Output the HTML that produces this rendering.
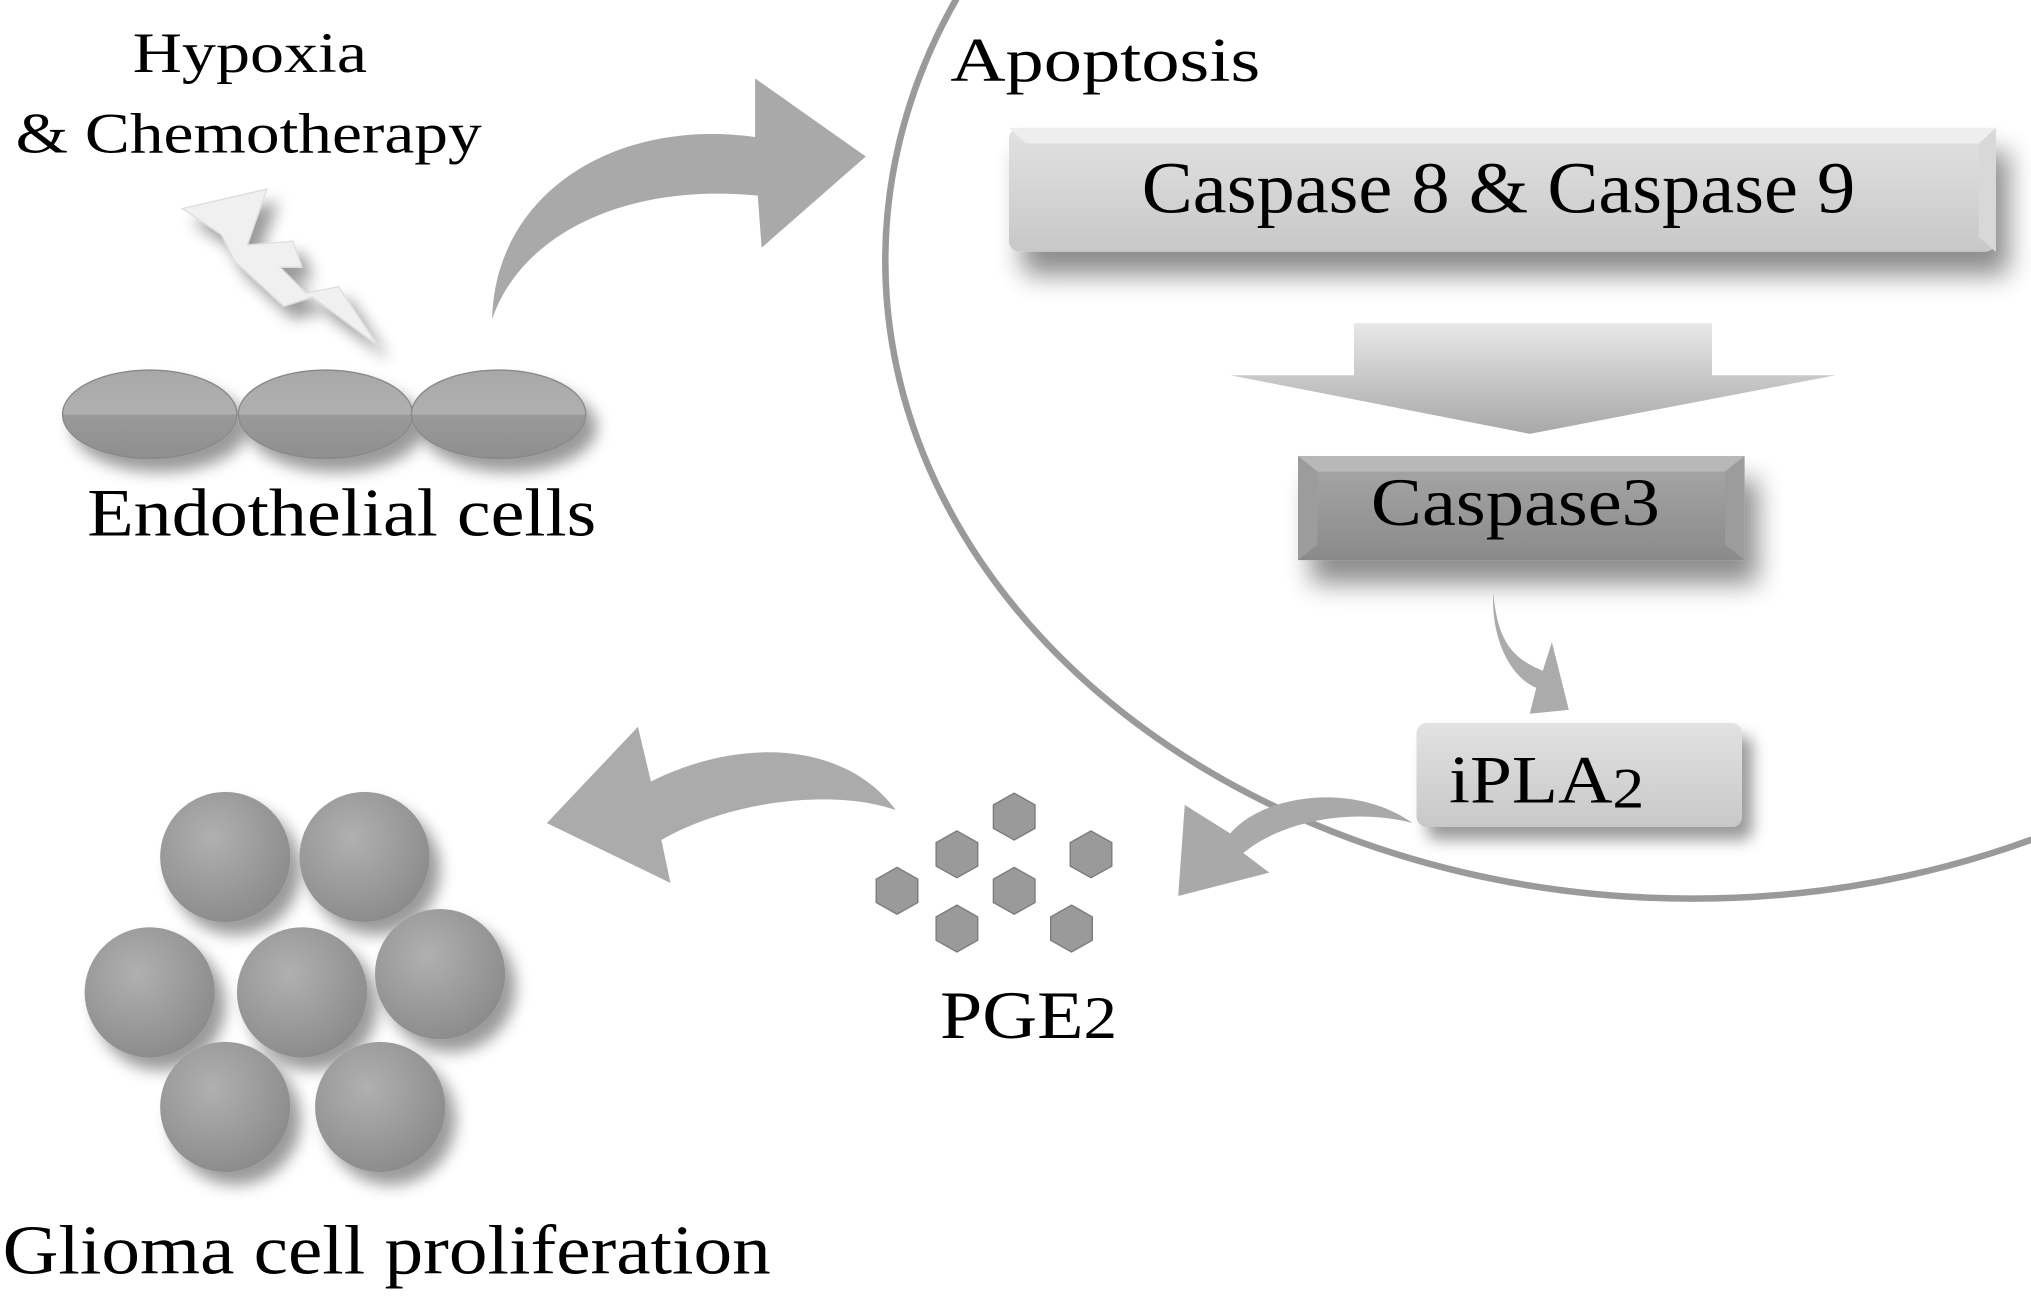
<!DOCTYPE html>
<html><head><meta charset="utf-8"><style>
html,body{margin:0;padding:0;background:#fff;width:2031px;height:1296px;overflow:hidden}
svg{display:block}
text{font-family:"Liberation Serif","Times New Roman",serif;fill:#000}
</style></head><body>
<svg width="2031" height="1296" viewBox="0 0 1560 995" xmlns="http://www.w3.org/2000/svg">
<defs>
<filter id="sh" x="-20%" y="-20%" width="150%" height="180%"><feGaussianBlur in="SourceAlpha" stdDeviation="10"/><feOffset dx="10" dy="18"/><feComponentTransfer><feFuncA type="linear" slope="0.45"/></feComponentTransfer><feMerge><feMergeNode/><feMergeNode in="SourceGraphic"/></feMerge></filter>
<filter id="sh2" x="-30%" y="-30%" width="170%" height="170%"><feGaussianBlur in="SourceAlpha" stdDeviation="6"/><feOffset dx="8" dy="10"/><feComponentTransfer><feFuncA type="linear" slope="0.4"/></feComponentTransfer><feMerge><feMergeNode/><feMergeNode in="SourceGraphic"/></feMerge></filter>
<linearGradient id="box1" x1="0" y1="0" x2="0" y2="1"><stop offset="0" stop-color="#e2e2e2"/><stop offset="1" stop-color="#c8c8c8"/></linearGradient>
<linearGradient id="box2" x1="0" y1="0" x2="0" y2="1"><stop offset="0" stop-color="#a8a8a8"/><stop offset="1" stop-color="#8a8a8a"/></linearGradient>
<linearGradient id="dn" x1="0" y1="0" x2="0" y2="1"><stop offset="0" stop-color="#e8e8e8"/><stop offset="1" stop-color="#a8a8a8"/></linearGradient>
<radialGradient id="ball" cx="0.4" cy="0.35" r="0.7"><stop offset="0" stop-color="#b0b0b0"/><stop offset="1" stop-color="#8a8a8a"/></radialGradient>
<linearGradient id="ell" x1="0" y1="0" x2="0" y2="1"><stop offset="0" stop-color="#a8a8a8"/><stop offset="0.5" stop-color="#b0b0b0"/><stop offset="0.5" stop-color="#9a9a9a"/><stop offset="1" stop-color="#8e8e8e"/></linearGradient>
</defs>

<ellipse cx="1300" cy="200" rx="620" ry="490" fill="none" stroke="#9a9a9a" stroke-width="5"/>

<text x="102" y="55" font-size="44" textLength="180" lengthAdjust="spacingAndGlyphs">Hypoxia</text>
<text x="12" y="117" font-size="44" textLength="358" lengthAdjust="spacingAndGlyphs">&amp; Chemotherapy</text>
<text x="730" y="62" font-size="48" textLength="238" lengthAdjust="spacingAndGlyphs">Apoptosis</text>

<polygon points="140,160 205,145 190,188 225,185 232,205 215,205 235,225 260,220 290,265 240,228 218,235 180,200 170,180" fill="#f0f0f0" stroke="#ddd" stroke-width="1" filter="url(#sh2)"/>

<path d="M378,245 C380,150 470,90 580,105 L580,60 L665,120 L585,190 L582,150 C480,140 400,180 378,245 Z" fill="#a9a9a9"/>

<g filter="url(#sh2)">
<ellipse cx="115" cy="318" rx="67" ry="34" fill="url(#ell)" stroke="#888" stroke-width="1"/>
<ellipse cx="250" cy="318" rx="67" ry="34" fill="url(#ell)" stroke="#888" stroke-width="1"/>
<ellipse cx="383" cy="318" rx="67" ry="34" fill="url(#ell)" stroke="#888" stroke-width="1"/>
</g>
<text x="67" y="411" font-size="52" textLength="391" lengthAdjust="spacingAndGlyphs">Endothelial cells</text>

<g filter="url(#sh)">
<rect x="775" y="98" width="758" height="95" rx="8" fill="url(#box1)"/>
<polygon points="775,98 1533,98 1520,110 788,110" fill="#eee"/>
<polygon points="1533,98 1533,193 1520,182 1520,110" fill="#d8d8d8"/>
</g>
<text x="877" y="163" font-size="56" textLength="548" lengthAdjust="spacingAndGlyphs">Caspase 8 &amp; Caspase 9</text>

<polygon points="1040,248 1315,248 1315,288 1410,288 1175,333 945,288 1040,288" fill="url(#dn)"/>

<g filter="url(#sh)">
<rect x="997" y="350" width="343" height="80" fill="url(#box2)"/>
<polygon points="997,350 1340,350 1325,362 1012,362" fill="#b8b8b8"/>
<polygon points="1340,350 1340,430 1325,418 1325,362" fill="#9c9c9c"/>
<polygon points="997,350 1012,362 1012,418 997,430" fill="#9c9c9c"/>
</g>
<text x="1053" y="403" font-size="52" textLength="222" lengthAdjust="spacingAndGlyphs">Caspase3</text>

<path d="M1147,455 C1150,490 1160,505 1185,515 L1192,493 L1205,545 L1175,548 L1180,528 C1160,520 1145,490 1147,455 Z" fill="#ababab"/>

<g filter="url(#sh2)">
<rect x="1088" y="555" width="250" height="80" rx="8" fill="url(#box1)"/>
</g>
<text x="1113" y="616" font-size="52" textLength="150" lengthAdjust="spacingAndGlyphs">iPLA<tspan font-size="44" dy="4">2</tspan></text>

<path d="M1085,632 C1040,600 970,610 945,640 L910,618 L905,688 L975,670 L955,655 C985,630 1040,620 1085,632 Z" fill="#a9a9a9"/>

<g fill="#9a9a9a" stroke="#7a7a7a" stroke-width="1">
<polygon points="779,609 795,618 795,636 779,645 763,636 763,618"/>
<polygon points="735,638 751,647 751,665 735,674 719,665 719,647"/>
<polygon points="838,638 854,647 854,665 838,674 822,665 822,647"/>
<polygon points="689,666 705,675 705,693 689,702 673,693 673,675"/>
<polygon points="779,666 795,675 795,693 779,702 763,693 763,675"/>
<polygon points="735,695 751,704 751,722 735,731 719,722 719,704"/>
<polygon points="823,695 839,704 839,722 823,731 807,722 807,704"/>
</g>
<text x="722" y="797" font-size="52" textLength="136" lengthAdjust="spacingAndGlyphs">PGE<tspan font-size="46">2</tspan></text>

<path d="M688,622 C650,570 570,565 500,600 L490,558 L420,632 L515,678 L508,645 C560,615 640,605 688,622 Z" fill="#ababab"/>

<g filter="url(#sh2)">
<circle cx="173" cy="658" r="50" fill="url(#ball)"/>
<circle cx="280" cy="658" r="50" fill="url(#ball)"/>
<circle cx="115" cy="762" r="50" fill="url(#ball)"/>
<circle cx="232" cy="762" r="50" fill="url(#ball)"/>
<circle cx="338" cy="748" r="50" fill="url(#ball)"/>
<circle cx="173" cy="850" r="50" fill="url(#ball)"/>
<circle cx="292" cy="850" r="50" fill="url(#ball)"/>
</g>
<text x="2" y="978" font-size="54" textLength="590" lengthAdjust="spacingAndGlyphs">Glioma cell proliferation</text>
</svg>
</body></html>
